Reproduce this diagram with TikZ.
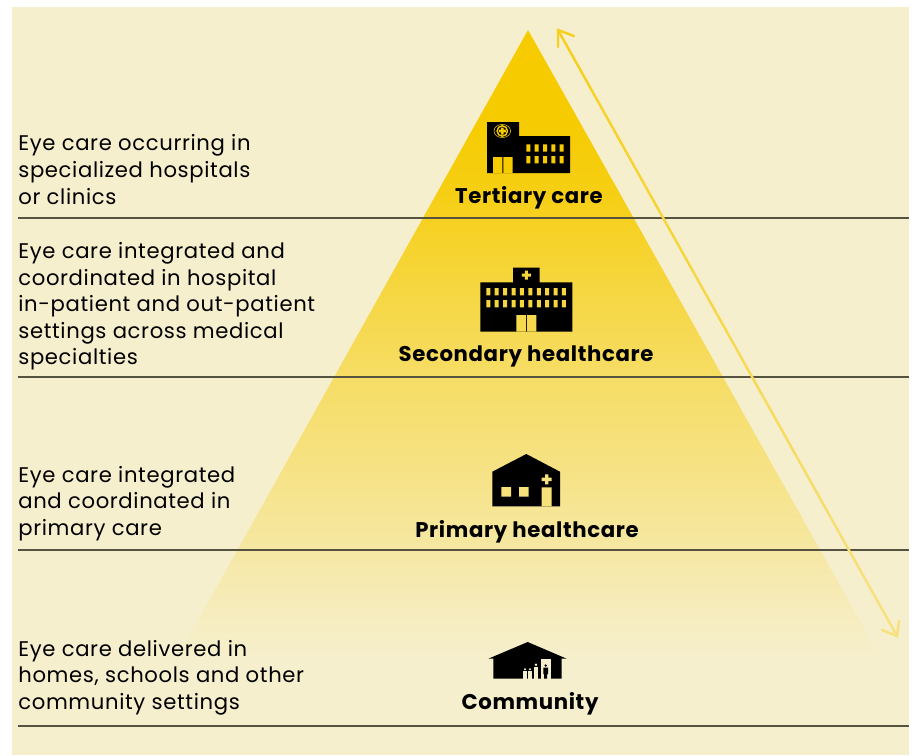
\documentclass[tikz,border=0pt]{standalone}
\usepackage{xcolor}
\usepackage{fontspec}
\setmainfont{Poppins}[LetterSpace=3]
\usetikzlibrary{arrows.meta,calc}
\definecolor{paperbg}{HTML}{F6EFCD}
\definecolor{pyrtop}{HTML}{F6CB00}
\definecolor{arrowtone}{HTML}{F6D020}
\definecolor{ruleline}{HTML}{55533F}
\pgfdeclareverticalshading{pyramidfade}{100bp}{
  color(0bp)=(paperbg); color(25bp)=(paperbg); color(29bp)=(paperbg!92!pyrtop);
  color(34bp)=(paperbg!79!pyrtop); color(41bp)=(paperbg!63!pyrtop);
  color(48bp)=(paperbg!48!pyrtop);
  color(55bp)=(paperbg!30!pyrtop); color(62bp)=(paperbg!10!pyrtop);
  color(68bp)=(pyrtop); color(75bp)=(pyrtop); color(100bp)=(pyrtop)}
\tikzset{
  sidetext/.style={anchor=west,align=left,inner sep=0pt,text=black,
    font=\fontsize{12.05}{15.1}\selectfont},
  tiertext/.style={anchor=center,inner sep=0pt,text=black,
    font=\fontsize{12.1}{15}\selectfont\bfseries},
  tierrule/.style={draw=ruleline,line width=0.7pt},
  arrowpiece/.style={line width=1.4pt,line cap=round}
}
\begin{document}
\begin{tikzpicture}[x=0.02cm,y=-0.02cm]
  \useasboundingbox (0,0) rectangle (912,755);
  \fill[white] (0,0) rectangle (912,755);
  \fill[paperbg] (12,7) rectangle (909,755);
  % pyramid
  \shade[shading=pyramidfade] (528,30) -- (176,660) -- (882,660) -- cycle;
  % rules
  \coordinate (ruleAl) at (18,218);  \coordinate (ruleAr) at (909,218);
  \coordinate (ruleBl) at (18,377);  \coordinate (ruleBr) at (909,377);
  \coordinate (ruleCl) at (18,550);  \coordinate (ruleCr) at (909,550);
  \coordinate (ruleDl) at (18,726);  \coordinate (ruleDr) at (909,726);
  \draw[tierrule] (ruleAl) -- (ruleAr);
  \draw[tierrule] (ruleBl) -- (ruleBr);
  \draw[tierrule] (ruleCl) -- (ruleCr);
  \draw[tierrule] (ruleDl) -- (ruleDr);
  % double arrow
  \coordinate (arrowtop) at (558,30);
  \coordinate (arrowend) at (897,636);
  \foreach \i [evaluate=\i as \j using int(\i+1), evaluate=\i as \mixv using int(100-6*\i)] in {0,...,9}
    \draw[arrowpiece,draw=arrowtone!\mixv!paperbg]
      ($(arrowtop)!\i/10!(arrowend)$) -- ($(arrowtop)!\j/10!(arrowend)$);
  \draw[arrowpiece,draw=arrowtone] (558,47) -- (arrowtop) -- (574,36);
  \draw[arrowpiece,draw=arrowtone!46!paperbg] (882,630) -- (arrowend) -- (899,621);
  % left texts
  \node[sidetext] (txtTertiary) at (18,169.5) {Eye care occurring in\\specialized hospitals\\or clinics};
  \node[sidetext] (txtSecondary) at (18,306.5) {Eye care integrated and\\coordinated in hospital\\in-patient and out-patient\\settings across medical\\specialties};
  \node[sidetext] (txtPrimary) at (18,503.5) {Eye care integrated\\and coordinated in\\primary care};
  \node[sidetext] (txtCommunity) at (18,677.5) {Eye care delivered in\\homes, schools and other\\community settings};
  % tier names
  \node[tiertext] (tierTertiary) at (529,198) {Tertiary care};
  \node[tiertext] (tierSecondary) at (526,356.5) {Secondary healthcare};
  \node[tiertext] (tierPrimary) at (527,531.5) {Primary healthcare};
  \node[tiertext] (tierCommunity) at (530,703.5) {Community};
  % tertiary icon
  \fill[black] (487,122) rectangle (519,173) (518.5,136) rectangle (570,173);
  \fill[pyrtop] (493,157) rectangle (502.3,173) (503.3,157) rectangle (512.7,173);
  \foreach \px in {526.3,534.7,543,551.3,559.7}
    \fill[pyrtop] (\px,144.3) rectangle ++(4,7.4) (\px,156) rectangle ++(4,7.4);
  \draw[pyrtop,line width=0.3pt] (502.3,131) ellipse (8.3 and 6.6);
  \draw[pyrtop,line width=0.8pt] (502.3,131) circle (5.2);
  \fill[pyrtop] (501,127.5) rectangle (503.6,134.5) (498.8,129.7) rectangle (505.8,132.3);
  % secondary icon
  \fill[black] (480.3,282.3) rectangle (572.3,331.7) (513,267.7) rectangle (539.7,282.8);
  \fill[pyrtop!70!paperbg] (521.8,273.5) rectangle (530.8,276.5) (524.8,270.5) rectangle (527.8,279.5);
  \foreach \n in {0,...,9}
    \fill[pyrtop!70!paperbg] (486.3+8.41*\n,288) rectangle ++(4,7.3) (486.3+8.41*\n,300) rectangle ++(4,7.3);
  \fill[pyrtop!62!paperbg] (516.3,315) rectangle (525.8,331.7) (526.8,315) rectangle (536.3,331.7);
  % primary icon
  \fill[black] (492.3,506.3) -- (492.3,471.7) -- (526.3,454) -- (560,471.7) -- (560,506.3) -- cycle;
  \fill[paperbg!60!pyrtop] (501.3,487) rectangle (511,496.7) (519,487) rectangle (528.7,496.7) (541.7,487.3) rectangle (551.7,506.3);
  \fill[paperbg!60!pyrtop] (541.7,477.6) rectangle (551.7,481) (545,474.3) rectangle (548.4,484.3);
  % community icon
  \fill[black] (488.3,658.7) -- (527.7,642) -- (566.7,658.7) -- (561.7,658.7) -- (561.7,678.7) -- (493.3,678.7) -- (493.3,658.7) -- cycle;
  \fill[paperbg] (540.7,659.3) rectangle (550.7,678.7);
  \foreach \fx in {525,530}{
    \fill[paperbg] (\fx,669.3) circle (1.1);
    \fill[paperbg] (\fx-1.8,671) rectangle (\fx+1.8,678.7);
  }
  \fill[paperbg] (536,664.8) circle (1.4);
  \fill[paperbg] (533.6,667) rectangle (538.4,678.7);
  \fill[black] (545.7,665.5) circle (1.3);
  \fill[black] (543.3,667.5) rectangle (548.1,674) (544.2,674) rectangle (547.2,678.7);
\end{tikzpicture}
\end{document}
